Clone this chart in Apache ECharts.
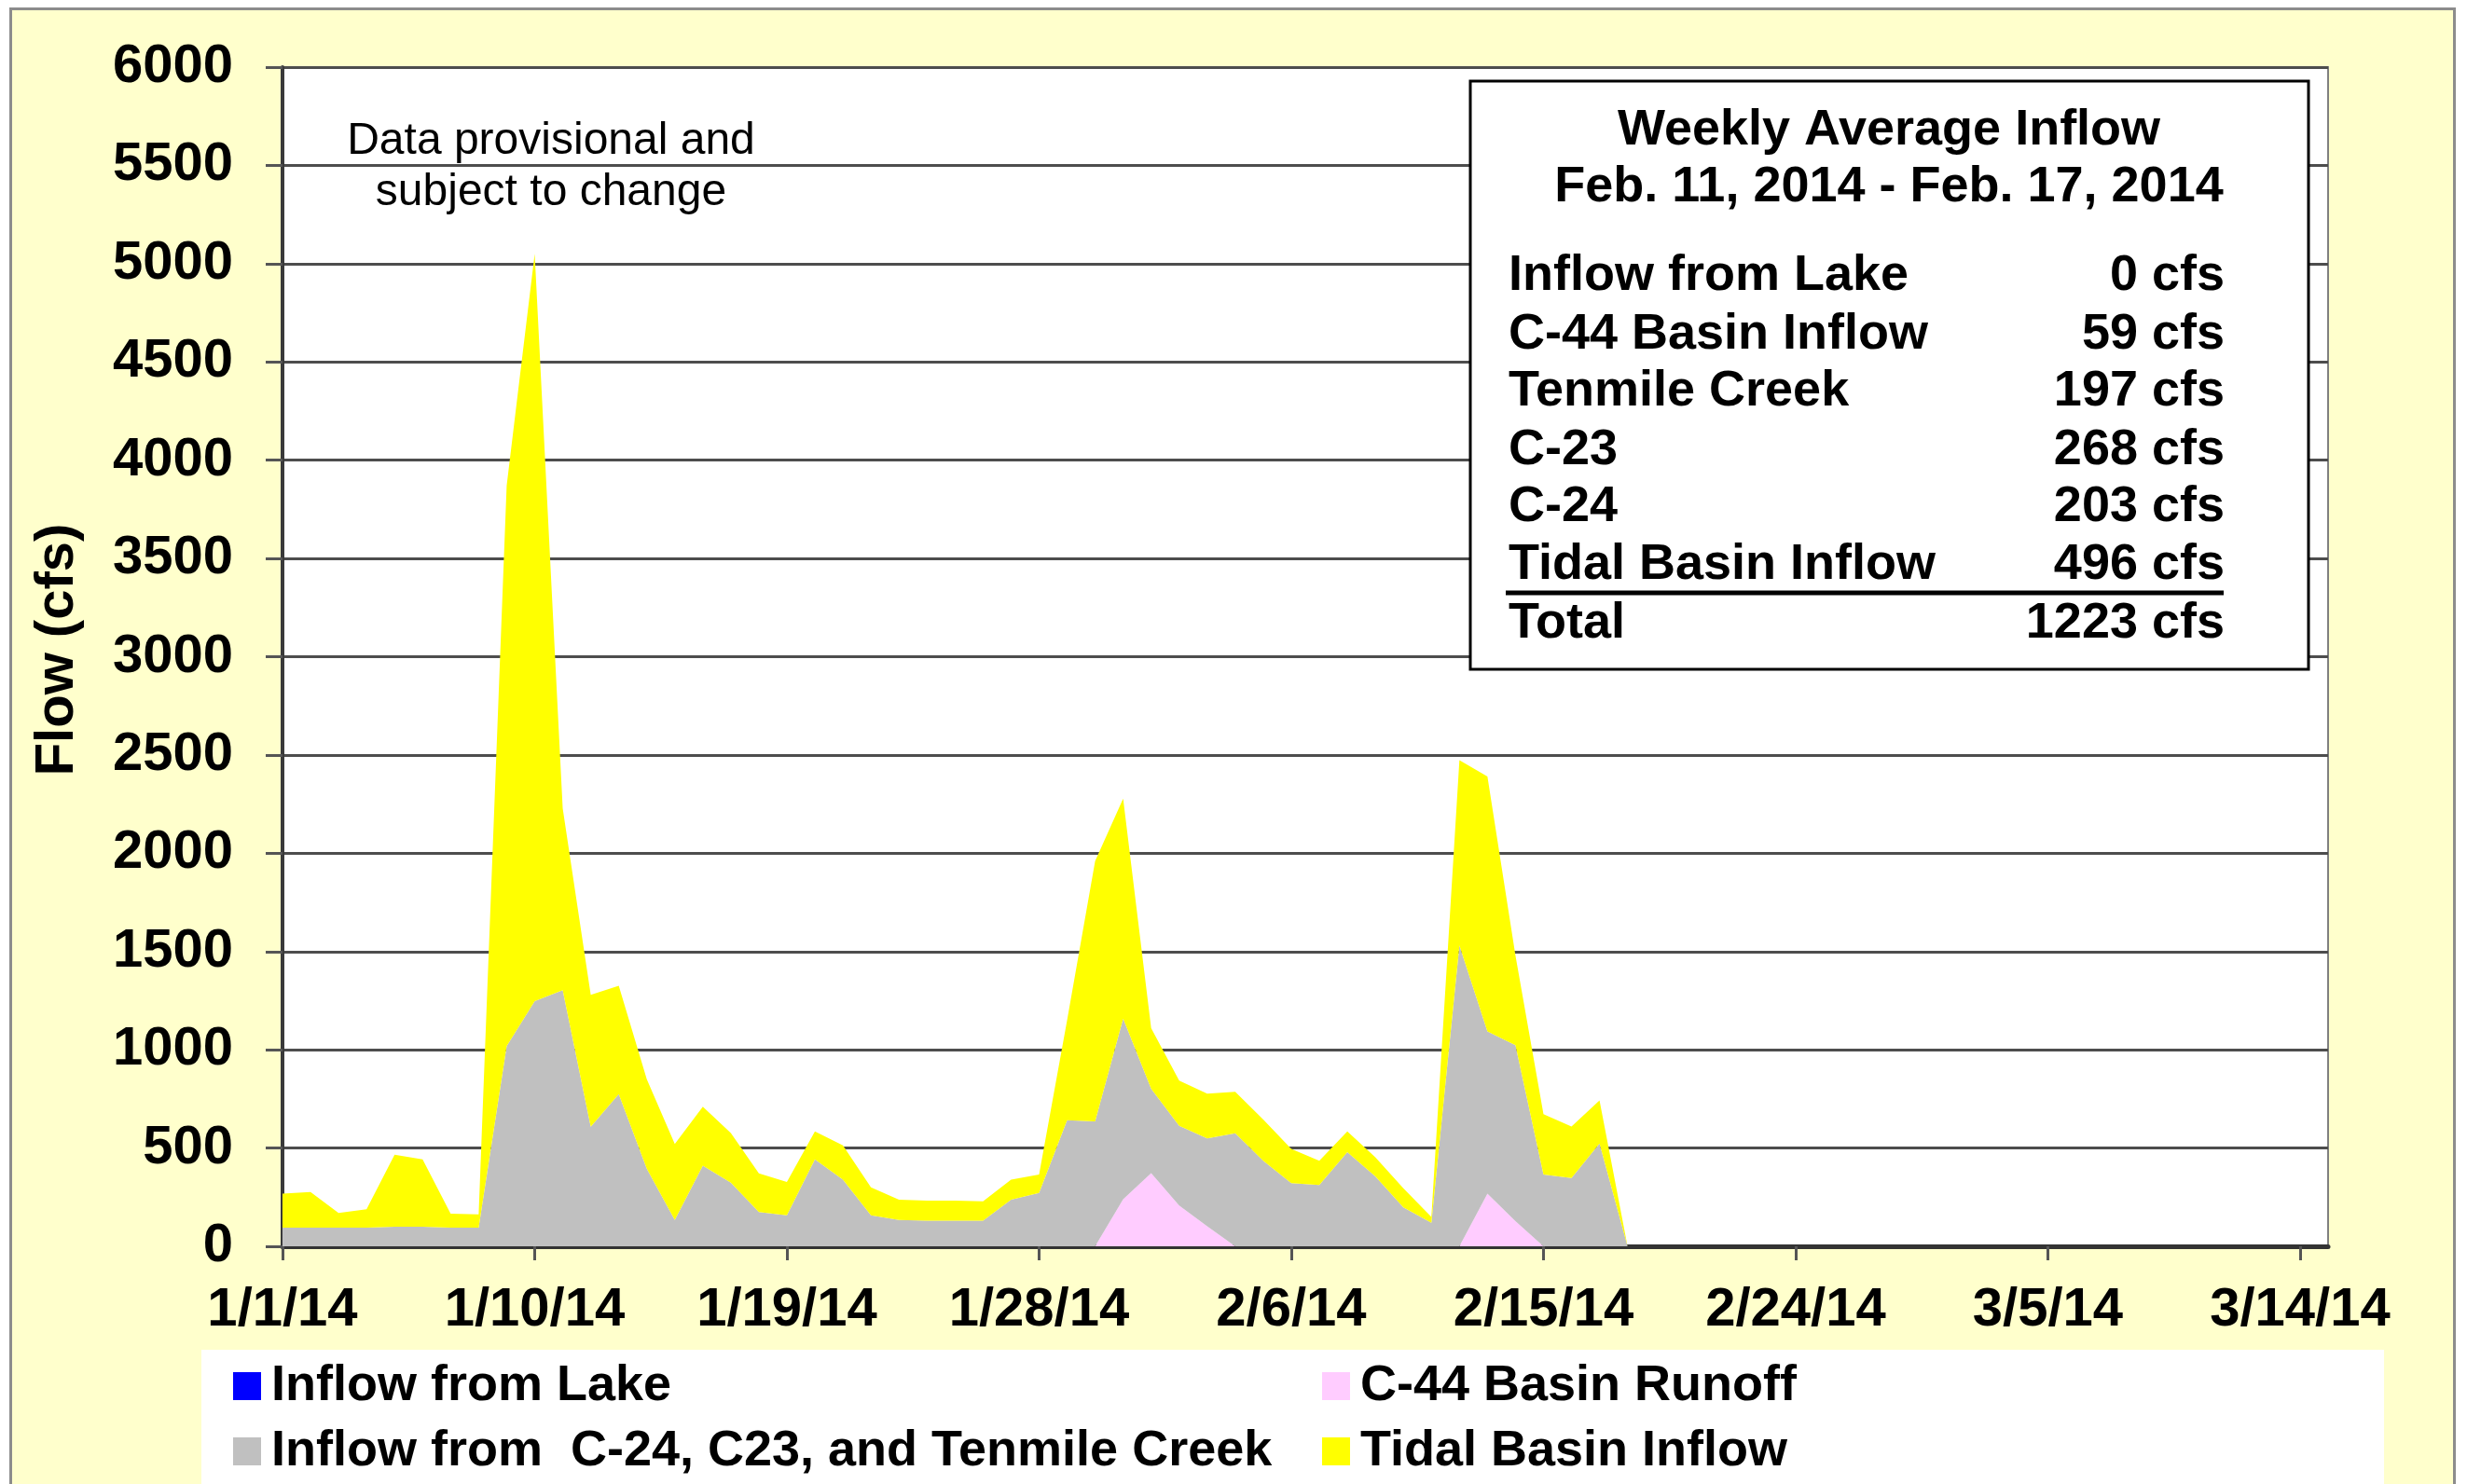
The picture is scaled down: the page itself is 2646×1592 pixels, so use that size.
<!DOCTYPE html>
<html>
<head>
<meta charset="utf-8">
<script src="https://cdn.jsdelivr.net/npm/echarts@6/dist/echarts.min.js"></script>
<style>
  html, body { margin: 0; padding: 0; background: #ffffff; }
  #frame { position: absolute; left: 10px; top: 8px; width: 2624px; height: 1600px;
           background: #FFFFCC; border: 3px solid #8c8c8c; box-sizing: border-box; }
  #chart { position: absolute; left: 0; top: 0; width: 2646px; height: 1592px; }
</style>
</head>
<body>
<div id="frame"></div>
<div id="chart"></div>
<script>
// ---- categories (daily, 1/1/14 .. 3/15/14) ----
const dates = [
  '1/1/14','1/2/14','1/3/14','1/4/14','1/5/14','1/6/14','1/7/14','1/8/14','1/9/14','1/10/14',
  '1/11/14','1/12/14','1/13/14','1/14/14','1/15/14','1/16/14','1/17/14','1/18/14','1/19/14','1/20/14',
  '1/21/14','1/22/14','1/23/14','1/24/14','1/25/14','1/26/14','1/27/14','1/28/14','1/29/14','1/30/14','1/31/14',
  '2/1/14','2/2/14','2/3/14','2/4/14','2/5/14','2/6/14','2/7/14','2/8/14','2/9/14','2/10/14',
  '2/11/14','2/12/14','2/13/14','2/14/14','2/15/14','2/16/14','2/17/14','2/18/14','2/19/14','2/20/14',
  '2/21/14','2/22/14','2/23/14','2/24/14','2/25/14','2/26/14','2/27/14','2/28/14',
  '3/1/14','3/2/14','3/3/14','3/4/14','3/5/14','3/6/14','3/7/14','3/8/14','3/9/14','3/10/14',
  '3/11/14','3/12/14','3/13/14','3/14/14','3/15/14'
];
const tickLabels = ['1/1/14','1/10/14','1/19/14','1/28/14','2/6/14','2/15/14','2/24/14','3/5/14','3/14/14'];

// ---- series values (cfs), 1/1/14 .. 2/18/14 ----
const lakeInflow = [
  0,0,0,0,0,0,0,0,0,0, 0,0,0,0,0,0,0,0,0,0, 0,0,0,0,0,0,0,0,0,0, 0,0,0,0,0,0,0,0,0,0, 0,0,0,0,0,0,0,0,0
];
const c44Runoff = [
  0,0,0,0,0,0,0,0,0,0, 0,0,0,0,0,0,0,0,0,0, 0,0,0,0,0,0,0,0,0,0, 240,372,207,102,0,0,0,0,0,0, 0,0,0,268,128,0,0,0,0
];
const c24c23Tenmile = [
  95,95,95,95,100,100,95,95,1018,1247, 1303,608,774,395,134,410,324,174,158,442,
  339,158,134,131,131,131,237,272,642,636, 918,429,406,447,575,435,321,312,479,356,
  198,120,1531,825,895,365,347,523,0
];
const tidalInflow = [
  173,181,74,94,366,342,71,68,2852,3803, 925,671,552,455,387,300,252,197,169,142,
  174,142,103,101,101,98,102,93,508,1324, 1120,309,230,228,211,210,175,123,105,97,
  97,30,942,1298,457,307,263,219,0
];

// ---- summary box ----
const boxTitle = ['Weekly Average Inflow', 'Feb. 11, 2014 - Feb. 17, 2014'];
const boxLabels = ['Inflow from Lake','C-44 Basin Inflow','Tenmile Creek','C-23','C-24','Tidal Basin Inflow','Total'];
const boxValues = ['0 cfs','59 cfs','197 cfs','268 cfs','203 cfs','496 cfs','1223 cfs'];
const noteLines = ['Data provisional and', 'subject to change'];

const seriesNames = ['Inflow from Lake','C-44 Basin Runoff','Inflow from  C-24, C23, and Tenmile Creek','Tidal Basin Inflow'];
const seriesColors = ['#0000FF','#FFCCFF','#C0C0C0','#FFFF00'];
const seriesData = [lakeInflow, c44Runoff, c24c23Tenmile, tidalInflow];

const FONT = '"Liberation Sans", Arial, sans-serif';
const chart = echarts.init(document.getElementById('chart'), null, {renderer: 'canvas'});

function txt(text, x, y, size, weight, align, valign, extra) {
  return Object.assign({
    type: 'text', z: 100,
    style: {
      text: text, x: x, y: y,
      font: weight + ' ' + size + 'px ' + FONT,
      fill: '#000',
      align: align, textAlign: align,
      verticalAlign: valign, textVerticalAlign: valign
    }
  }, extra || {});
}

const graphics = [];
// legend white box
graphics.push({ type: 'rect', z: 1, shape: { x: 216, y: 1448, width: 2341, height: 200 },
  style: { fill: '#ffffff' } });
// summary box
graphics.push({ type: 'rect', z: 99, shape: { x: 1577, y: 87, width: 899, height: 631 },
  style: { fill: '#ffffff', stroke: '#000', lineWidth: 3 } });
graphics.push(txt(boxTitle[0], 2026, 140, 54, 'bold', 'center', 'middle'));
graphics.push(txt(boxTitle[1], 2026, 201, 54, 'bold', 'center', 'middle'));
const rowY = [296, 359, 420, 483, 544, 606, 669];
boxLabels.forEach(function (l, i) {
  graphics.push(txt(l, 1618, rowY[i], 54, 'bold', 'left', 'middle'));
  graphics.push(txt(boxValues[i], 2386, rowY[i], 54, 'bold', 'right', 'middle'));
});
graphics.push({ type: 'line', z: 100, shape: { x1: 1615, y1: 636, x2: 2385, y2: 636 },
  style: { stroke: '#000', lineWidth: 5 } });
// note
graphics.push(txt(noteLines[0], 591, 152, 48, 'normal', 'center', 'middle'));
graphics.push(txt(noteLines[1], 591, 207, 48, 'normal', 'center', 'middle'));
// y axis title (rotated about its own centre)
graphics.push(txt('Flow (cfs)', 0, 0, 58, 'bold', 'center', 'middle', { rotation: Math.PI / 2, x: 62, y: 697 }));

const series = seriesNames.map(function (n, i) {
  return {
    name: n, type: 'line', stack: 'total', data: seriesData[i],
    color: seriesColors[i], symbol: 'none', showSymbol: false,
    lineStyle: { width: 0 }, areaStyle: { color: seriesColors[i], opacity: 1 },
    emphasis: { disabled: true }, silent: true, z: 2
  };
});

const legendCommon = {
  orient: 'vertical', icon: 'rect', itemWidth: 30, itemHeight: 30,
  itemGap: 14, padding: 0, selectedMode: false,
  textStyle: { fontFamily: FONT, fontWeight: 'bold', fontSize: 54, color: '#000',
               lineHeight: 56, padding: [0, 0, 0, 6] }
};

chart.setOption({
  backgroundColor: 'transparent',
  animation: false,
  textStyle: { fontFamily: FONT },
  grid: { left: 303, right: 149, top: 72, bottom: 255, show: true,
          backgroundColor: '#ffffff', borderColor: '#808080', borderWidth: 2 },
  legend: [
    Object.assign({}, legendCommon, { left: 250, top: 1459, data: [seriesNames[0], seriesNames[2]] }),
    Object.assign({}, legendCommon, { left: 1418, top: 1459, data: [seriesNames[1], seriesNames[3]] })
  ],
  xAxis: {
    type: 'category', data: dates, boundaryGap: false,
    axisLine: { show: true, lineStyle: { color: '#333', width: 5 } },
    axisTick: { show: true, interval: 8, length: 15, lineStyle: { color: '#555', width: 3 } },
    axisLabel: {
      interval: 8, margin: 40, fontSize: 58, fontWeight: 'bold', color: '#000',
      formatter: function (v) { return tickLabels.indexOf(v) >= 0 ? v : ''; }
    },
    splitLine: { show: false }
  },
  yAxis: {
    type: 'value', min: 0, max: 6000, interval: 500,
    axisLine: { show: true, lineStyle: { color: '#3a3a3a', width: 4 } },
    axisTick: { show: true, length: 18, lineStyle: { color: '#555', width: 3 } },
    axisLabel: { margin: 53, fontSize: 58, fontWeight: 'bold', color: '#000',
                 formatter: function (v) { return String(v); } },
    splitLine: { show: true, lineStyle: { color: '#4d4d4d', width: 3 } }
  },
  series: series,
  graphic: { elements: graphics }
});
</script>
</body>
</html>
